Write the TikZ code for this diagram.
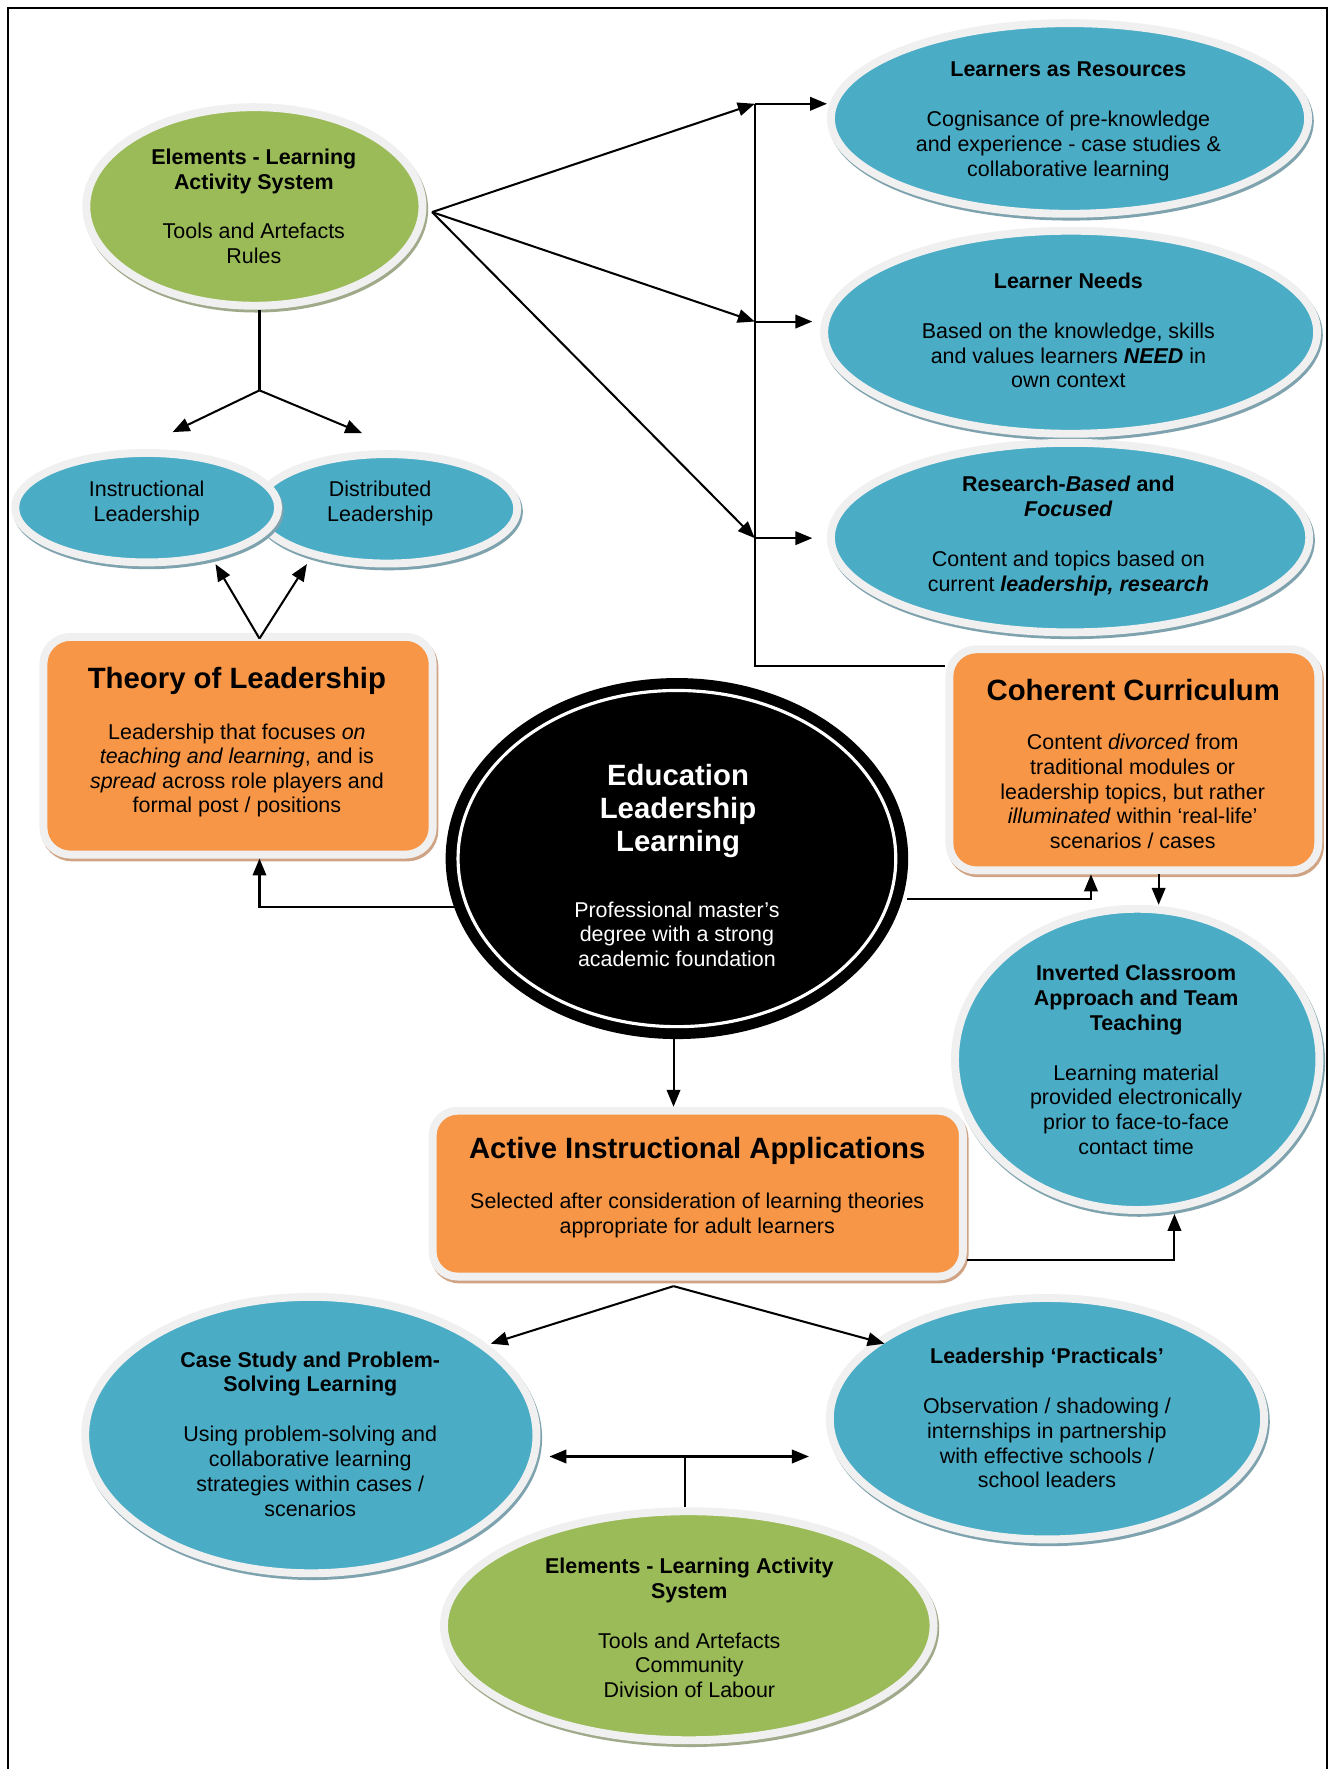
\documentclass[tikz,border=0pt]{standalone}
\usepackage{fontspec}
\setmainfont{Liberation Sans}
\usetikzlibrary{shapes.geometric, arrows.meta, calc}
\definecolor{blueF}{HTML}{4BACC6}
\definecolor{greenF}{HTML}{9BBB59}
\definecolor{orangeF}{HTML}{F79646}
\definecolor{rimC}{HTML}{F0F0F0}
\definecolor{blueSh}{HTML}{7FA3AE}
\definecolor{greenSh}{HTML}{A0AA8A}
\definecolor{orangeSh}{HTML}{CFA384}
\begin{document}
\begin{tikzpicture}[x=1pt,y=-1pt,
  base/.style={draw=rimC, line width=7pt, inner sep=0pt},
  ell/.style={base, ellipse},
  blueell/.style={ell, fill=blueF, preaction={draw=blueSh, line width=7pt, transform canvas={shift={(1.5pt,-2.5pt)}}}},
  greenell/.style={ell, fill=greenF, preaction={draw=greenSh, line width=7pt, transform canvas={shift={(1.5pt,-2.5pt)}}}},
  obox/.style={base, rectangle, rounded corners=24pt, fill=orangeF, preaction={draw=orangeSh, line width=7pt, transform canvas={shift={(1.5pt,-2.5pt)}}}},
  txt/.style={align=center, inner sep=0pt, font=\fontsize{19}{22}\selectfont},
  ttl/.style={align=center, inner sep=0pt, font=\fontsize{26}{29.5}\selectfont\bfseries},
  conn/.style={line width=1.8pt, draw=black},
  arr/.style={conn, -{Triangle[length=15pt,width=12pt]}},
  darr/.style={conn, {Triangle[length=15pt,width=12pt]}-{Triangle[length=15pt,width=12pt]}},
]
\useasboundingbox (0,0) rectangle (1179,1568);
\fill[white] (0,0) rectangle (1179,1568);
\draw[line width=1.4pt] (7,1568) -- (7,7) -- (1176,7) -- (1176,1568);

% ---------- shapes ----------
\node[greenell, minimum width=298pt, minimum height=176pt] (green1) at (225.5,183) {};
\node[blueell, minimum width=231pt, minimum height=97pt] (distr) at (343,451) {};
\node[blueell, minimum width=233pt, minimum height=97pt] (instr) at (130,450) {};
\node[obox, minimum width=345pt, minimum height=193pt] (theory) at (211,661) {};
\node[ellipse, fill=black, inner sep=0pt, minimum width=410pt, minimum height=320pt] (ctr) at (600,761) {};
\draw[white, line width=2.8pt] (ctr.center) ellipse [x radius=194, y radius=149];
\node[obox, minimum width=327pt, minimum height=196pt] (coherent) at (1005,673.5) {};
\node[blueell, minimum width=423pt, minimum height=169pt] (lres) at (948,105) {};
\node[blueell, minimum width=437pt, minimum height=180pt] (lneeds) at (949,294.5) {};
\node[blueell, minimum width=424pt, minimum height=168pt] (research) at (948.5,476.5) {};
\node[blueell, minimum width=323pt, minimum height=267pt] (inverted) at (1008,939) {};
\node[obox, rounded corners=22pt, minimum width=470pt, minimum height=147pt] (active) at (618.5,1058) {};
\node[blueell, minimum width=400pt, minimum height=245pt] (casestudy) at (275.5,1272) {};
\node[blueell, minimum width=385pt, minimum height=214pt] (practicals) at (928,1257.5) {};
\node[greenell, minimum width=434pt, minimum height=203pt] (green2) at (610.5,1441) {};

% ---------- texts ----------
\node[txt] (green1-t) at (225,183) {\textbf{Elements - Learning}\\\textbf{Activity System}\\[22pt]Tools and Artefacts\\Rules};
\node[txt] (instr-t) at (130,446.5) {Instructional\\Leadership};
\node[txt] (distr-t) at (337,446.5) {Distributed\\Leadership};
\node[ttl] (theory-h) at (210,603.5) {Theory of Leadership};
\node[txt, font=\fontsize{19}{21.5}\selectfont] (theory-t) at (210,683) {Leadership that focuses \textit{on}\\\textit{teaching and learning}, and is\\\textit{spread} across role players and\\formal post / positions};
\node[ttl, text=white] (ctr-h) at (601,719) {Education\\Leadership\\Learning};
\node[txt, text=white, font=\fontsize{19}{21.5}\selectfont] (ctr-t) at (600,828) {Professional master’s\\degree with a strong\\academic foundation};
\node[ttl] (coherent-h) at (1004.5,611.5) {Coherent Curriculum};
\node[txt, font=\fontsize{19}{21.8}\selectfont] (coherent-t) at (1004,701.5) {Content \textit{divorced} from\\traditional modules or\\leadership topics, but rather\\\textit{illuminated} within ‘real-life’\\scenarios / cases};
\node[txt] (lres-t) at (947,107.5) {\textbf{Learners as Resources}\\[22pt]Cognisance of pre-knowledge\\and experience - case studies \&\\collaborative learning};
\node[txt] (lneeds-t) at (947,293) {\textbf{Learner Needs}\\[22pt]Based on the knowledge, skills\\and values learners \textbf{\textit{NEED}} in\\own context};
\node[txt] (research-t) at (947,475) {\textbf{Research-\textit{Based} and}\\\textbf{\textit{Focused}}\\[22pt]Content and topics based on\\current \textbf{\textit{leadership, research}}};
\node[txt] (inverted-t) at (1007,939.5) {\textbf{Inverted Classroom}\\\textbf{Approach and Team}\\\textbf{Teaching}\\[22pt]Learning material\\provided electronically\\prior to face-to-face\\contact time};
\node[ttl] (active-h) at (618,1020.5) {Active Instructional Applications};
\node[txt] (active-t) at (618,1077.5) {Selected after consideration of learning theories\\appropriate for adult learners};
\node[txt] (casestudy-t) at (275,1271) {\textbf{Case Study and Problem-}\\\textbf{Solving Learning}\\[22pt]Using problem-solving and\\collaborative learning\\strategies within cases /\\scenarios};
\node[txt] (practicals-t) at (928,1257) {\textbf{Leadership ‘Practicals’}\\[22pt]Observation / shadowing /\\internships in partnership\\with effective schools /\\school leaders};
\node[txt] (green2-t) at (611,1443) {\textbf{Elements - Learning Activity}\\\textbf{System}\\[22pt]Tools and Artefacts\\Community\\Division of Labour};

% ---------- coordinates ----------
\coordinate (fk1) at (230,346);
\coordinate (tI) at (153,383);
\coordinate (tD) at (321,384);
\coordinate (ap1) at (230,566);
\coordinate (tI2) at (191,500);
\coordinate (tD2) at (272,500);
\coordinate (gR) at (383,188);
\coordinate (b1) at (669,92);
\coordinate (b2) at (669,285);
\coordinate (b3) at (669,477);
\coordinate (b4) at (669,590);
\coordinate (r1) at (733,92);
\coordinate (r2) at (720,285);
\coordinate (r3) at (720,477);
\coordinate (cL) at (404,804);
\coordinate (cLc) at (230,804);
\coordinate (cR) at (804,797);
\coordinate (cRc) at (967,797);
\coordinate (ci) at (1027,790);
\coordinate (cB) at (597,950);
\coordinate (aR) at (1041,1117);
\coordinate (aB) at (597,1140);
\coordinate (tC) at (435,1191);
\coordinate (tP) at (784,1191);
\coordinate (dL) at (487,1291);
\coordinate (dR) at (717,1291);
\coordinate (dM) at (607,1291);

% ---------- connectors ----------
\draw[conn] (fk1 |- green1.south) -- (fk1);
\draw[arr] (fk1) -- (tI);
\draw[arr] (fk1) -- (tD);
\draw[arr] (ap1) -- (tI2);
\draw[arr] (ap1) -- (tD2);
\draw[arr] (gR) -- (b1);
\draw[arr] (gR) -- (b2);
\draw[arr] (gR) -- (b3);
\draw[conn] (b1) -- (b4) -- (b4 -| coherent.west);
\draw[arr] (b1) -- (r1);
\draw[arr] (b2) -- (r2);
\draw[arr] (b3) -- (r3);
\draw[arr] (cL) -- (cLc) -- (cLc |- theory.south);
\draw[arr] (cR) -- (cRc) -- (cRc |- coherent.south);
\draw[arr] (ci |- coherent.south) -- (ci |- inverted.north);
\draw[arr] (cB |- ctr.south) -- (cB |- active.north);
\draw[arr] (active.east |- aR) -- (aR) -- (aR |- inverted.south);
\draw[arr] (aB) -- (tC);
\draw[arr] (aB) -- (tP);
\draw[darr] (dL) -- (dR);
\draw[conn] (dM) -- (dM |- green2.north);
\end{tikzpicture}
\end{document}
